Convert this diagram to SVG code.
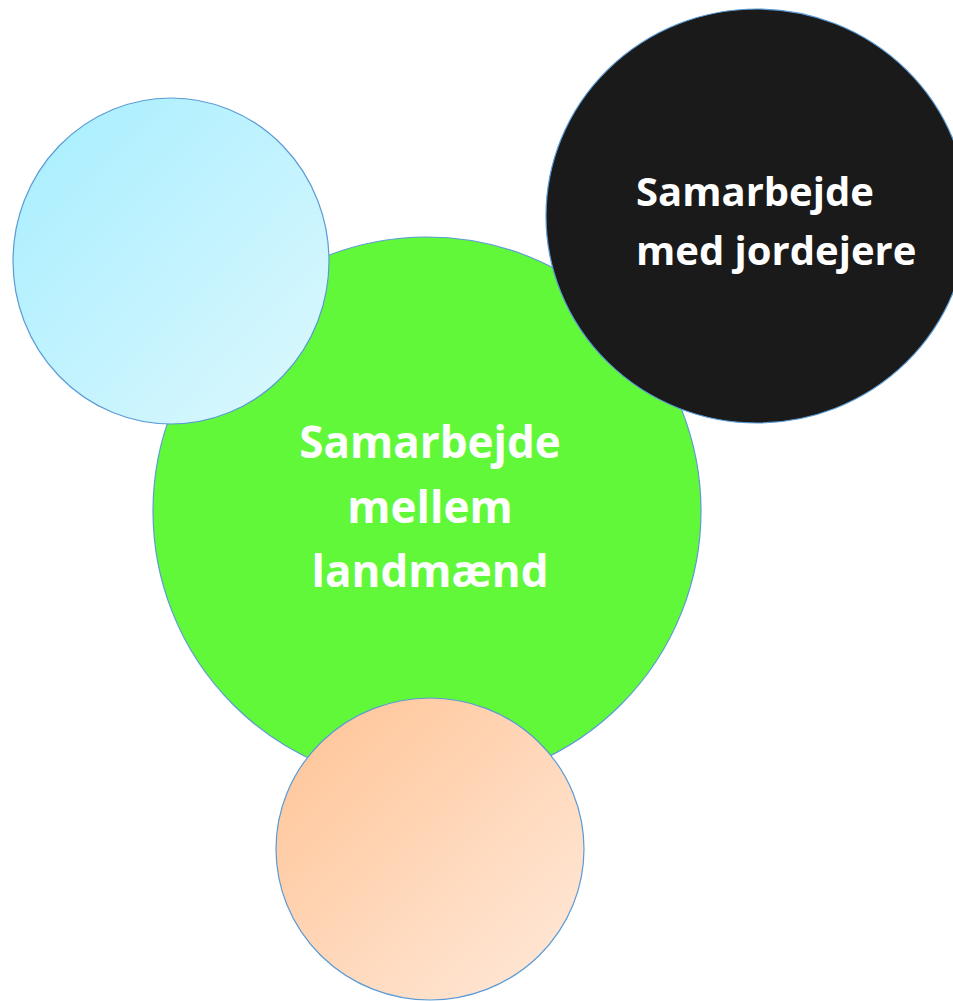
<svg xmlns="http://www.w3.org/2000/svg" width="953" height="1001" viewBox="0 0 953 1001">
<style>
.c{stroke:#5B9BD5;stroke-width:1.2}
.t{font-family:"Open Sans","Noto Sans","DejaVu Sans",sans-serif;font-weight:bold;fill:#FFFFFF}
</style>
<defs>
<linearGradient id="gb" x1="0" y1="0" x2="1" y2="1">
<stop offset="0" stop-color="#A6EEFF"/>
<stop offset="1" stop-color="#DDF8FD"/>
</linearGradient>
<linearGradient id="gp" x1="0" y1="0" x2="1" y2="1">
<stop offset="0" stop-color="#FFC394"/>
<stop offset="1" stop-color="#FFEADC"/>
</linearGradient>
</defs>
<rect width="953" height="1001" fill="#FFFFFF"/>
<g id="node-green">
<circle class="c" cx="427" cy="511" r="274" fill="#62F83A"/>
<text class="t" font-size="44" text-anchor="middle"><tspan x="430" y="458">Samarbejde</tspan><tspan x="430" y="523">mellem</tspan><tspan x="430" y="587">landmænd</tspan></text>
</g>
<g id="node-blue">
<ellipse class="c" cx="171" cy="261" rx="158" ry="163" fill="url(#gb)"/>
</g>
<g id="node-black">
<ellipse class="c" cx="757" cy="216" rx="211" ry="207" fill="#1A1A1A"/>
<text class="t" font-size="40"><tspan x="636" y="206">Samarbejde</tspan><tspan x="636" y="265">med jordejere</tspan></text>
</g>
<g id="node-peach">
<ellipse class="c" cx="430" cy="849" rx="154" ry="151" fill="url(#gp)"/>
</g>
<g id="connectors"></g>
</svg>
